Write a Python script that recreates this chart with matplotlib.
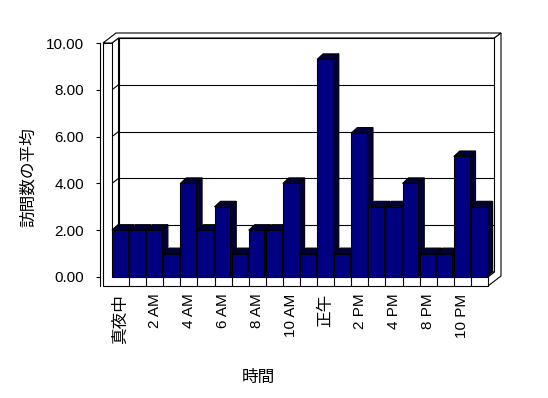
import numpy as np
import matplotlib.pyplot as plt
from matplotlib.patches import Polygon

# data
hours = list(range(0, 18)) + [20, 21, 22, 23]
visits = [2, 2, 2, 1, 4, 2, 3, 1, 2, 2, 4, 1, 9.3, 1, 6.15, 3, 3, 4, 1, 1, 5.15, 3]
tick_pos = [0, 2, 4, 6, 8, 10, 12, 14, 16, 18, 20]
tick_labels = ['真夜中', '2 AM', '4 AM', '6 AM', '8 AM', '10 AM', '正午',
               '2 PM', '4 PM', '8 PM', '10 PM']
yticks = [0, 2, 4, 6, 8, 10]

fonts = ['Liberation Sans', 'Noto Sans CJK JP', 'DejaVu Sans']
plt.rcParams['font.family'] = fonts

W, H = 548, 398
fig = plt.figure(figsize=(W / 100, H / 100), dpi=100)
# front plane of the plot area in pixels
x0, x1, y0, y1 = 112, 488, 277, 43
ax = fig.add_axes([x0 / W, (H - y0) / H, (x1 - x0) / W, (y0 - y1) / H])
n = len(visits)
ax.set_xlim(0, n)
ax.set_ylim(0, 10)
sx = (x1 - x0) / n
sy = (y0 - y1) / 10.

# depth offsets (px -> data)
dx, dy = 6.5 / sx, 5 / sy          # wall depth
bx, by = 6 / sx, 5.5 / sy          # bar depth
tl = 9 / sx                        # left wall thickness
tf = 9 / sy                        # floor thickness
lw = 0.8

def poly(pts, fc='white', z=1):
    ax.add_patch(Polygon(pts, closed=True, facecolor=fc, edgecolor='black',
                         linewidth=lw, zorder=z, clip_on=False))

# back wall and gridlines
poly([(dx, dy), (n + dx, dy), (n + dx, 10 + dy), (dx, 10 + dy)])
for v in yticks[1:-1]:
    ax.plot([dx, n + dx], [v + dy, v + dy], color='black', lw=lw, zorder=1.1, clip_on=False)
# left wall
poly([(0, 0), (0, 10), (dx, 10 + dy), (dx, dy)])
for v in yticks[1:-1]:
    ax.plot([0, dx], [v, v + dy], color='black', lw=lw, zorder=1.1, clip_on=False)
# floor top
poly([(0, 0), (n, 0), (n + dx, dy), (dx, dy)], z=1.2)
# top of walls
poly([(-tl, 10), (0, 10), (dx, 10 + dy), (n + dx, 10 + dy),
      (n + 2 * dx, 10 + 2 * dy), (-tl + 2 * dx, 10 + 2 * dy)], z=1.2)
# right side of back wall and floor
poly([(n + dx, 10 + dy), (n + 2 * dx, 10 + 2 * dy), (n + 2 * dx, -tf + 2 * dy),
      (n, -tf), (n, 0), (n + dx, dy)], z=1.2)
# front of left wall and floor
poly([(-tl, 10), (0, 10), (0, 0), (n, 0), (n, -tf), (-tl, -tf)], z=1.2)
ax.vlines(np.arange(1, n), -tf, 0, color='black', lw=lw, zorder=1.3, clip_on=False)

# bars
xs = np.arange(n)
w = 0.92
for x, v in zip(xs, visits):
    poly([(x + w, 0), (x + w, v), (x + w + bx, v + by), (x + w + bx, by)], fc='#00003a', z=3)
    poly([(x, v), (x + w, v), (x + w + bx, v + by), (x + bx, v + by)], fc='#00003a', z=3)
ax.bar(xs, visits, width=w, align='edge', color='#000080', edgecolor='black',
       linewidth=lw, zorder=4)

# axes decoration
for s in ['top', 'right', 'bottom']:
    ax.spines[s].set_visible(False)
ax.spines['left'].set_position(('outward', 9))
ax.spines['left'].set_bounds(-tf, 10)
ax.spines['left'].set_linewidth(lw)
ax.set_yticks(yticks)
ax.set_yticklabels(['%.2f' % v for v in yticks])
ax.tick_params(axis='y', length=3, width=lw, pad=8, labelsize=11)
ax.set_xticks(np.array(tick_pos) + 0.5)
ax.set_xticklabels(tick_labels, rotation=90, va='top', ha='center')
ax.tick_params(axis='x', length=0, pad=12, labelsize=11)
for t in ax.get_xticklabels():
    if not t.get_text()[0].isdigit():
        t.set_fontsize(12)

fig.text(28 / W, 1 - 177 / H, '訪問数の平均', rotation=90, ha='center', va='center', fontsize=12)
fig.text(258 / W, 1 - 377 / H, '時間', ha='center', va='center', fontsize=12)

fig.savefig('out.png', dpi=100)
